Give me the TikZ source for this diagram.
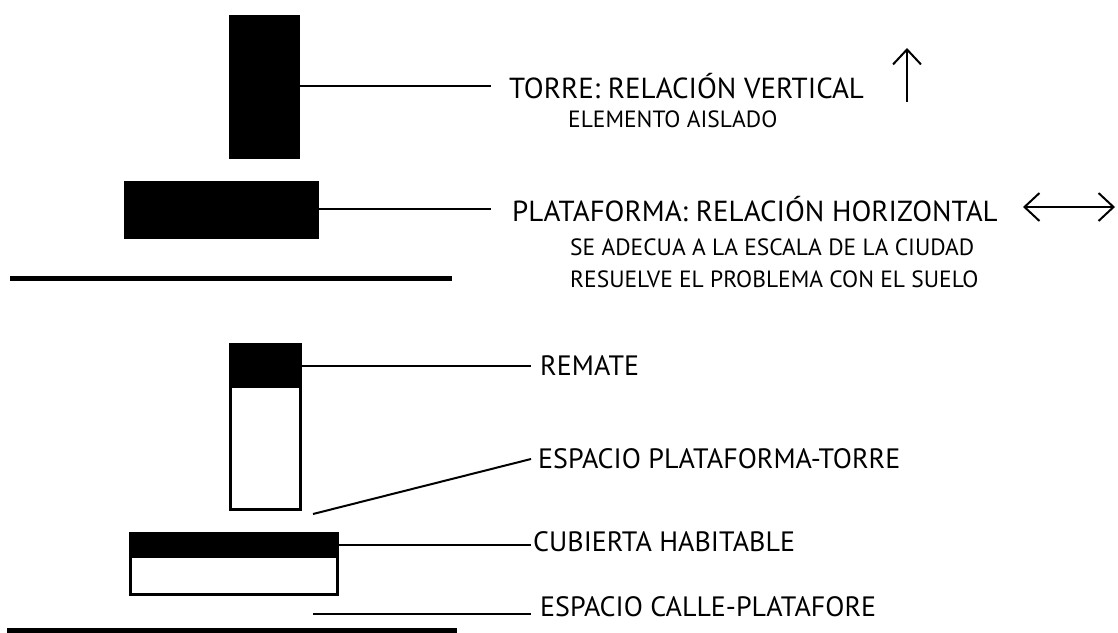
\documentclass[tikz,border=0pt]{standalone}
\usepackage{fontspec}
\setmainfont{PT Sans}
\usetikzlibrary{arrows.meta}
\tikzset{
    bloque/.style={draw, fill=black, line width=1pt, inner sep=0, outer sep=0,
        minimum width=#1},
    hueco/.style={draw, fill=white, line width=3pt, inner sep=0, outer sep=0},
    titulo/.style={anchor=west, inner xsep=18pt, inner ysep=0,
        font=\fontsize{29}{31}\selectfont},
    parte/.style={titulo, font=\fontsize{28}{30}\selectfont},
    nota/.style={anchor=west, inner sep=0, font=\fontsize{23.5}{32}\selectfont,
        align=left},
    guia/.style={line width=2pt},
    suelo/.style={line width=5pt},
    punta/.tip={Straight Barb[length=15pt, width=28pt, line width=2pt]},
    flecha/.style={line width=2pt}
}
\begin{document}
\begin{tikzpicture}[x=1pt, y=-1pt]
        \useasboundingbox (0,0) rectangle (1118,632);

        % torre y plataforma
        \node [bloque=70pt, minimum height=143pt] (torre) at (264,86.5) {};
        \node [bloque=194pt, minimum height=57pt] (plataforma) at (221,209.5) {};
        \draw [suelo] (10,278) -- (452,278);

        \node [titulo] (torrelbl) at (491,86) {TORRE: RELACIÓN VERTICAL};
        \node [nota] (aislado) at (568,119) {ELEMENTO AISLADO};
        \node [titulo, inner xsep=21pt] (platlbl) at (491,209) {PLATAFORMA: RELACIÓN HORIZONTAL};
        \node [nota] (escala) at (570,263) {SE ADECUA A LA ESCALA DE LA CIUDAD\\
            RESUELVE EL PROBLEMA CON EL SUELO};

        \draw [guia] (torre.east |- torrelbl.west) -- (torrelbl.west);
        \draw [guia] (plataforma.east |- platlbl.west) -- (platlbl.west);

        \draw [flecha, -punta] (907,102) -- (907,48);
        \draw [flecha, punta-punta] (1023,207) -- (1115,207);

        % torre con remate y plataforma con cubierta
        \node [hueco, minimum width=70pt, minimum height=165pt] (cuerpo) at (265,426.5) {};
        \node [bloque=70pt, minimum height=43pt] (remate) at (265,365.5) {};
        \node [hueco, minimum width=207pt, minimum height=61pt] (base) at (233.5,563.5) {};
        \node [bloque=207pt, minimum height=24pt] (cubierta) at (233.5,545) {};
        \draw [suelo] (7,630) -- (457,630);

        \coordinate (hueco torre) at (313,514);
        \coordinate (hueco calle) at (313,614);

        \node [parte, inner xsep=9pt] (rematelbl) at (531,366) {REMATE};
        \node [parte, inner xsep=7pt] (espaciolbl) at (531,459) {ESPACIO PLATAFORMA-TORRE};
        \node [parte, inner xsep=2pt] (cubiertalbl) at (531,542) {CUBIERTA HABITABLE};
        \node [parte, inner xsep=9pt] (callelbl) at (531,607) {ESPACIO CALLE-PLATAFORE};

        \draw [guia] (remate.east) -- (remate.east -| rematelbl.west);
        \draw [guia] (hueco torre) -- (espaciolbl.west);
        \draw [guia] (cubierta.east) -- (cubierta.east -| cubiertalbl.west);
        \draw [guia] (hueco calle) -- (hueco calle -| callelbl.west);
\end{tikzpicture}
\end{document}
